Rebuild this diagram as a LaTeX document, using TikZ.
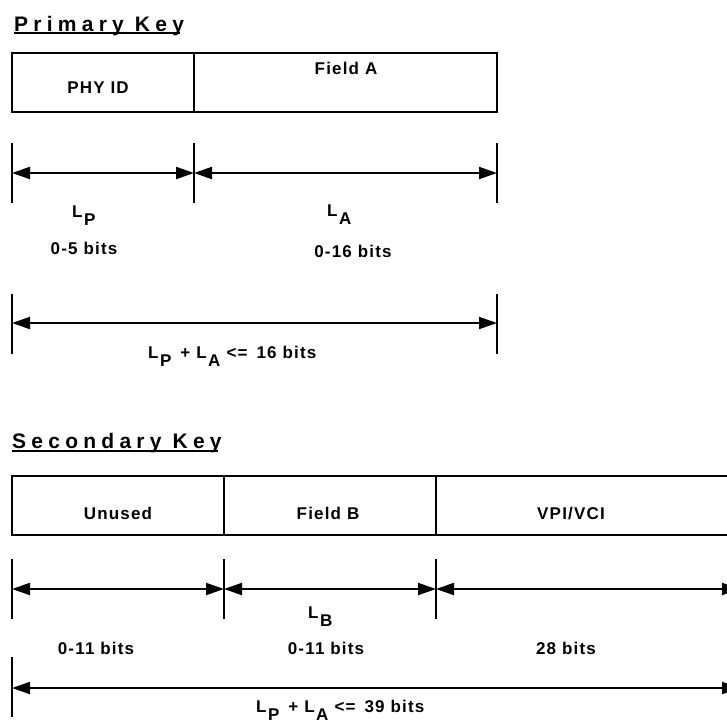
\documentclass[tikz,border=0pt]{standalone}
\usepackage{fontspec}
\setmainfont{Liberation Sans}
\newfontfamily\labfont[LetterSpace=7]{Liberation Sans}
\newfontfamily\titfont[LetterSpace=25]{Liberation Sans}
\usetikzlibrary{arrows.meta}
\newcommand{\Lsb}[1]{L\kern1.5pt\raisebox{-8pt}{#1}}
\newcommand{\sumtext}[1]{\Lsb{P}\hspace{9pt}+\hspace{6pt}\Lsb{A}\hspace{6pt}<=\hspace{9pt}#1 bits}
\tikzset{
  keybox/.style={draw, line width=2pt, inner sep=0pt, minimum height=59pt},
  lbl/.style={font=\labfont\bfseries\fontsize{17}{20}\selectfont, inner sep=0pt},
  ttl/.style={font=\titfont\bfseries\fontsize{21}{24}\selectfont, inner sep=0pt},
  tick/.style={line width=2pt},
  dim/.style={line width=2pt, {Triangle[length=18pt,width=12pt]}-{Triangle[length=18pt,width=12pt]}},
  uline/.style={line width=2pt}
}
\begin{document}
\begin{tikzpicture}[x=1pt,y=-1pt]
\useasboundingbox (0,0) rectangle (727,721);
\clip (0,0) rectangle (727,721);
% ---------- Primary key ----------
\node[ttl, anchor=base west] (ptitle) at (14,31) {Primary Key};
\draw[uline] ([yshift=-2pt]ptitle.base west) -- ([yshift=-2pt,xshift=-4pt]ptitle.base east);
\node[keybox, minimum width=182pt] (p1) at (103,82.5) {};
\node[keybox, minimum width=303pt] (p2) at (345.5,82.5) {};
\node[lbl] (tphy) at (98,88) {PHY ID};
\node[lbl] (tfa) at (346,68) {Field A};
\foreach \x/\n in {12/0,194/1,497/2}{
  \coordinate (pu\n) at (\x,143);
  \coordinate (pd\n) at (\x,203);
  \coordinate (pa\n) at (\x,173);
  \draw[tick] (pu\n) -- (pd\n);
}
\draw[dim] (pa0) -- (pa1);
\draw[dim] (pa1) -- (pa2);
\node[lbl, anchor=base west] (tlp) at (72,217) {\Lsb{P}};
\node[lbl, anchor=base west] (tla) at (327,216) {\Lsb{A}};
\node[lbl] (t05) at (84,248) {0-5 bits};
\node[lbl] (t016) at (353,251) {0-16 bits};
\foreach \x/\n in {12/0,497/1}{
  \coordinate (qu\n) at (\x,294);
  \coordinate (qd\n) at (\x,354);
  \coordinate (qa\n) at (\x,323);
  \draw[tick] (qu\n) -- (qd\n);
}
\draw[dim] (qa0) -- (qa1);
\node[lbl, anchor=base west] (tsum1) at (148,358) {\sumtext{16}};
% ---------- Secondary key ----------
\node[ttl, anchor=base west] (stitle) at (12,448) {Secondary Key};
\draw[uline] ([yshift=-3pt]stitle.base west) -- ([yshift=-3pt,xshift=-4pt]stitle.base east);
\node[keybox, minimum width=212pt] (s1) at (118,505.5) {};
\node[keybox, minimum width=212pt] (s2) at (330,505.5) {};
\node[keybox, minimum width=304pt] (s3) at (588,505.5) {};
\node[lbl] (tun) at (118,513) {Unused};
\node[lbl] (tfb) at (328,513) {Field B};
\node[lbl] (tvpi) at (571,513) {VPI/VCI};
\foreach \x/\n in {12/0,224/1,436/2,740/3}{
  \coordinate (su\n) at (\x,559);
  \coordinate (sd\n) at (\x,619);
  \coordinate (sa\n) at (\x,589);
  \draw[tick] (su\n) -- (sd\n);
}
\draw[dim] (sa0) -- (sa1);
\draw[dim] (sa1) -- (sa2);
\draw[dim] (sa2) -- (sa3);
\node[lbl, anchor=base west] (tlb) at (308,618) {\Lsb{B}};
\node[lbl] (t011a) at (96,648) {0-11 bits};
\node[lbl] (t011b) at (326,648) {0-11 bits};
\node[lbl] (t28) at (566,648) {28 bits};
\foreach \x/\n in {12/0,740/1}{
  \coordinate (ru\n) at (\x,657);
  \coordinate (rd\n) at (\x,717);
  \coordinate (ra\n) at (\x,688);
  \draw[tick] (ru\n) -- (rd\n);
}
\draw[dim] (ra0) -- (ra1);
\node[lbl, anchor=base west] (tsum2) at (256,712) {\sumtext{39}};
\end{tikzpicture}
\end{document}
